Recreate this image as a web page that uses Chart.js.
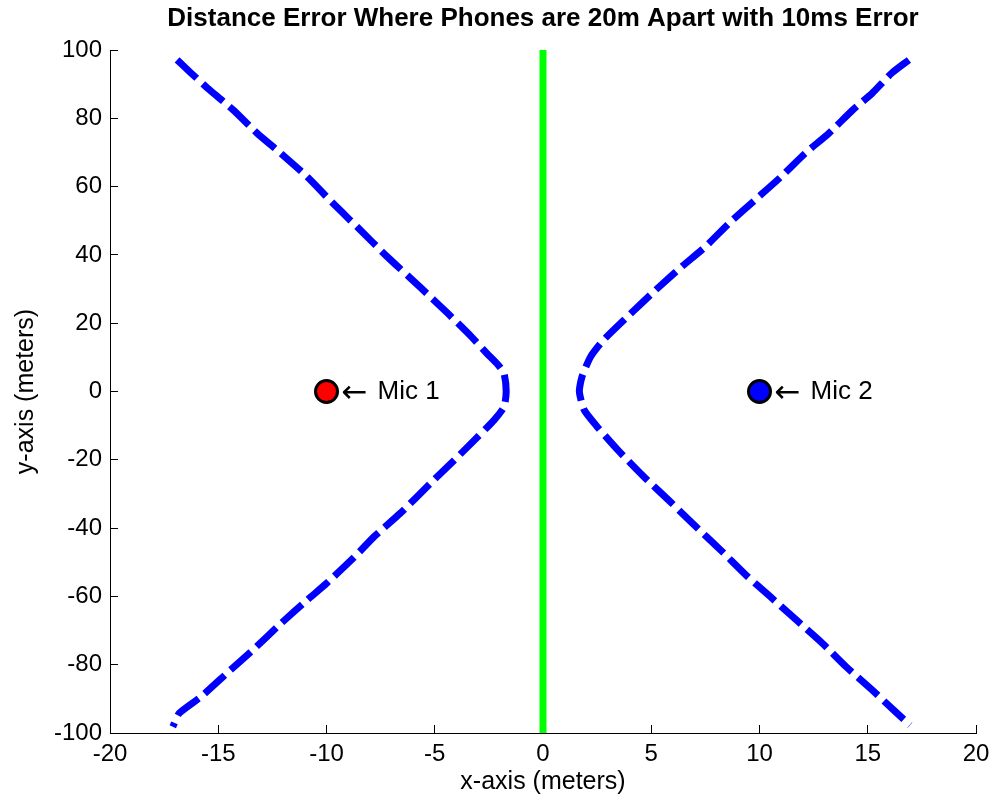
<!DOCTYPE html>
<html>
<head>
<meta charset="utf-8">
<script src="https://cdn.jsdelivr.net/npm/chart.js@4.4.1/dist/chart.umd.min.js"></script>
<style>
  html, body { margin: 0; padding: 0; background: #fff; }
  #wrap { width: 995px; height: 803px; }
</style>
</head>
<body>
<div id="wrap"><canvas id="c" width="995" height="803"></canvas></div>
<script>
// ---- data ----
const titleText = 'Distance Error Where Phones are 20m Apart with 10ms Error';
const xTicks = [-20, -15, -10, -5, 0, 5, 10, 15, 20];
const yTicks = [-100, -80, -60, -40, -20, 0, 20, 40, 60, 80, 100];

const leftX = [-16.9, -16.3, -15.4, -14.3, -13.2, -12.1, -10.9, -9.7, -8.6, -7.2, -5.7, -4.4, -3.3, -2.6, -2.1, -1.8, -1.7,
               -1.8, -2.25, -3.0, -4.1, -5.2, -6.6, -7.8, -8.7, -10.0, -10.9, -12.1, -13.4, -14.6, -15.8, -16.8, -17.1];
const leftY = [97.1, 93.5, 88.3, 82.4, 75.6, 69.7, 62.9, 55.1, 48.3, 39.5, 30.7, 22.9, 16.0, 11.2, 8.0, 5.3, 0.0,
               -4.5, -8.3, -13.2, -20.1, -26.9, -35.7, -42.5, -48.4, -56.2, -61.1, -67.9, -75.7, -82.5, -89.4, -94.2, -98.2];

const rightX = [16.9, 16.1, 15.2, 14.3, 13.2, 12.1, 11.0, 9.8, 8.6, 7.5, 6.4, 5.2, 3.9, 2.8, 2.2, 1.8, 1.68,
                1.9, 2.5, 3.45, 4.65, 5.8, 6.9, 8.2, 9.45, 10.5, 11.7, 12.9, 14.0, 15.2, 16.2, 16.95];
const rightY = [97.1, 93.2, 87.3, 82.4, 75.6, 69.7, 62.9, 56.1, 49.3, 42.4, 36.5, 29.7, 21.9, 15.1, 10.2, 4.3, 0.0,
                -5.4, -10.3, -17.1, -24.9, -31.8, -38.6, -46.4, -54.2, -60.1, -66.9, -73.7, -80.6, -87.4, -93.3, -97.7];

const midX = [0, 0];
const midY = [-100, 100];

const micNames = ['Mic 1', 'Mic 2'];
const micX = [-10, 10];
const micY = [0, 0];
const micColors = ['#ff0000', '#0000ff'];

// ---- build ----
const FONT = '"Liberation Sans", Arial, Helvetica, sans-serif';
const pts = (xs, ys) => xs.map((v, i) => ({ x: v, y: ys[i] }));

const curveStyle = {
  type: 'line', showLine: true, borderColor: '#0000ff', borderWidth: 7,
  borderDash: [27, 8], pointRadius: 0, tension: 0.2, fill: false
};

const datasets = [
  Object.assign({ label: 'left', data: pts(leftX, leftY) }, curveStyle),
  Object.assign({ label: 'right', data: pts(rightX, rightY) }, curveStyle),
  { type: 'line', label: 'mid', data: pts(midX, midY), borderColor: '#00ff00', borderWidth: 7,
    pointRadius: 0, fill: false },
];
micNames.forEach((n, i) => {
  datasets.push({
    type: 'scatter', label: n, data: [{ x: micX[i], y: micY[i] }],
    pointRadius: 11, pointBorderWidth: 3, pointBackgroundColor: micColors[i],
    pointBorderColor: '#000000', showLine: false
  });
});

const textLayer = {
  id: 'textLayer',
  afterDatasetsDraw(chart) {
    const { ctx, chartArea, scales: { x, y } } = chart;
    ctx.save();
    ctx.fillStyle = '#000';
    ctx.textBaseline = 'middle';
    // title centred on the axes box
    ctx.textAlign = 'center';
    ctx.font = 'bold 26px ' + FONT;
    ctx.fillText(titleText, (chartArea.left + chartArea.right) / 2, 19);
    // mic annotations
    ctx.textAlign = 'left';
    micNames.forEach((n, i) => {
      const px = x.getPixelForValue(micX[i]);
      const py = y.getPixelForValue(micY[i]);
      ctx.font = '31px "DejaVu Sans", sans-serif';
      ctx.fillText('\u2190', px + 15, py + 2);
      ctx.font = '26px ' + FONT;
      ctx.fillText(n, px + 51, py);
    });
    ctx.restore();
  }
};

new Chart(document.getElementById('c'), {
  type: 'scatter',
  data: { datasets },
  plugins: [textLayer],
  options: {
    responsive: false, animation: false, devicePixelRatio: 1,
    layout: { padding: { left: 0, right: 19, top: 50, bottom: 0 } },
    plugins: { legend: { display: false }, tooltip: { enabled: false }, title: { display: false } },
    scales: {
      x: {
        type: 'linear', min: -20, max: 20,
        afterBuildTicks: s => { s.ticks = xTicks.map(v => ({ value: v })); },
        afterFit: s => { s.height = 70; s.paddingLeft = 0; s.paddingRight = 0; },
        ticks: { color: '#000', font: { family: FONT, size: 24 }, padding: 15, maxRotation: 0, autoSkip: false },
        grid: { drawOnChartArea: false, tickLength: -8, color: '#000', lineWidth: 1 },
        border: { display: true, color: '#000', width: 1 },
        title: { display: true, text: 'x-axis (meters)', color: '#000',
                 font: { family: FONT, size: 25 }, padding: { top: 0, bottom: 6 } }
      },
      y: {
        type: 'linear', min: -100, max: 100,
        afterBuildTicks: s => { s.ticks = yTicks.map(v => ({ value: v })); },
        afterFit: s => { s.width = 110; s.paddingTop = 0; s.paddingBottom = 0; },
        ticks: { color: '#000', font: { family: FONT, size: 24 }, padding: 16, autoSkip: false },
        grid: { drawOnChartArea: false, tickLength: -8, color: '#000', lineWidth: 1 },
        border: { display: true, color: '#000', width: 1 },
        title: { display: true, text: 'y-axis (meters)', color: '#000',
                 font: { family: FONT, size: 25 }, padding: { top: 11, bottom: 0 } }
      }
    }
  }
});
</script>
</body>
</html>
